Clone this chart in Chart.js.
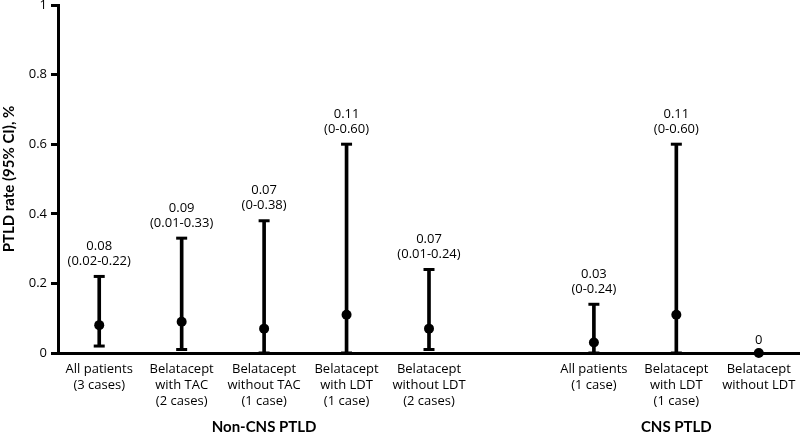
<!DOCTYPE html>
<html>
<head>
<meta charset="utf-8">
<script src="https://cdn.jsdelivr.net/npm/chart.js@4"></script>
<style>
  html, body { margin: 0; padding: 0; background: #fff; }
  #wrap { width: 800px; height: 434px; position: relative; }
</style>
</head>
<body>
<div id="wrap"><canvas id="c"></canvas></div>
<script>
// ---- data ----
const categories = [
  ['All patients', '(3 cases)'],
  ['Belatacept', 'with TAC', '(2 cases)'],
  ['Belatacept', 'without TAC', '(1 case)'],
  ['Belatacept', 'with LDT', '(1 case)'],
  ['Belatacept', 'without LDT', '(2 cases)'],
  '',
  ['All patients', '(1 case)'],
  ['Belatacept', 'with LDT', '(1 case)'],
  ['Belatacept', 'without LDT']
];
const rates   = [0.08, 0.09, 0.07, 0.11, 0.07, null, 0.03, 0.11, 0];
const ciLow   = [0.02, 0.01, 0,    0,    0.01, null, 0,    0,    null];
const ciHigh  = [0.22, 0.33, 0.38, 0.60, 0.24, null, 0.14, 0.60, null];
const rateLabels = ['0.08', '0.09', '0.07', '0.11', '0.07', '', '0.03', '0.11', '0'];
const ciLabels   = ['(0.02-0.22)', '(0.01-0.33)', '(0-0.38)', '(0-0.60)', '(0.01-0.24)', '', '(0-0.24)', '(0-0.60)', ''];
const groupNames = ['Non-CNS PTLD', 'CNS PTLD'];
const groupFrom  = [0, 6];
const groupTo    = [4, 8];
const yTickValues = [0, 0.2, 0.4, 0.6, 0.8, 1];
const yTitle = 'PTLD rate (95% CI), %';

const FONT = "'Open Sans', 'Noto Sans', sans-serif";
const BOLD_FONT = "Lato, 'Open Sans', sans-serif";
const INK = '#000';

const labelPlugin = {
  id: 'labels',
  afterDraw(chart) {
    const ctx = chart.ctx;
    const x = chart.scales.x, y = chart.scales.y;
    ctx.save();
    ctx.fillStyle = INK;
    ctx.textAlign = 'center';
    ctx.textBaseline = 'middle';
    ctx.font = '500 13px ' + FONT;
    for (let i = 0; i < categories.length; i++) {
      if (rates[i] == null) continue;
      const px = x.getPixelForValue(i);
      if (ciHigh[i] != null) {
        const top = y.getPixelForValue(ciHigh[i]);
        ctx.fillText(ciLabels[i], px, top - 15);
        ctx.fillText(rateLabels[i], px, top - 30);
      } else {
        const p = y.getPixelForValue(rates[i]);
        ctx.fillText(rateLabels[i], px, p - 13);
      }
    }
    ctx.font = 'bold 15px ' + BOLD_FONT;
    for (let g = 0; g < groupNames.length; g++) {
      const cx = (x.getPixelForValue(groupFrom[g]) + x.getPixelForValue(groupTo[g])) / 2;
      ctx.fillText(groupNames[g], cx, 427);
    }
    ctx.restore();
  }
};

new Chart(document.getElementById('c'), {
  type: 'bar',
  data: {
    labels: categories,
    datasets: [
      {
        type: 'bar',
        data: ciLow.map((l, i) => l == null ? null : [l, ciHigh[i]]),
        backgroundColor: INK,
        borderWidth: 0,
        barThickness: 3,
        order: 3
      },
      {
        type: 'line',
        data: ciLow,
        showLine: false,
        pointStyle: 'line',
        pointRadius: 5.5,
        pointBorderWidth: 3,
        pointBorderColor: INK,
        clip: false,
        order: 2
      },
      {
        type: 'line',
        data: ciHigh,
        showLine: false,
        pointStyle: 'line',
        pointRadius: 5.5,
        pointBorderWidth: 3,
        pointBorderColor: INK,
        clip: false,
        order: 2
      },
      {
        type: 'line',
        data: rates,
        showLine: false,
        pointStyle: 'circle',
        pointRadius: 5,
        pointBorderWidth: 0,
        pointBackgroundColor: INK,
        clip: false,
        order: 1
      }
    ]
  },
  options: {
    responsive: true,
    maintainAspectRatio: false,
    animation: false,
    devicePixelRatio: 1,
    layout: { padding: 0, autoPadding: false },
    plugins: { legend: { display: false }, tooltip: { enabled: false } },
    scales: {
      x: {
        offset: true,
        grid: { display: false, drawTicks: false },
        border: { display: true, color: INK, width: 3 },
        ticks: {
          color: INK, padding: 8, maxRotation: 0, autoSkip: false,
          font: { family: FONT, size: 13, weight: '500', lineHeight: 1.23 }
        },
        afterFit(s) { s.height = 81; s.paddingLeft = 0; s.paddingRight = 0; }
      },
      y: {
        min: 0, max: 1,
        afterBuildTicks(s) { s.ticks = yTickValues.map(v => ({ value: v })); },
        grid: { display: true, drawOnChartArea: false, drawTicks: true, tickLength: 7, tickWidth: 3, tickColor: INK },
        border: { display: true, color: INK, width: 3 },
        ticks: {
          color: INK, padding: 4,
          font: { family: FONT, size: 13, weight: '500', lineHeight: 1 },
          callback: v => String(Math.round(v * 10) / 10)
        },
        title: {
          display: true, text: yTitle, color: INK,
          padding: { top: 0, bottom: 0 },
          font: { family: BOLD_FONT, size: 15, weight: 'bold' }
        },
        afterFit(s) { s.width = 58; s.paddingTop = 5; s.paddingBottom = 0; }
      }
    }
  },
  plugins: [labelPlugin]
});
</script>
</body>
</html>
